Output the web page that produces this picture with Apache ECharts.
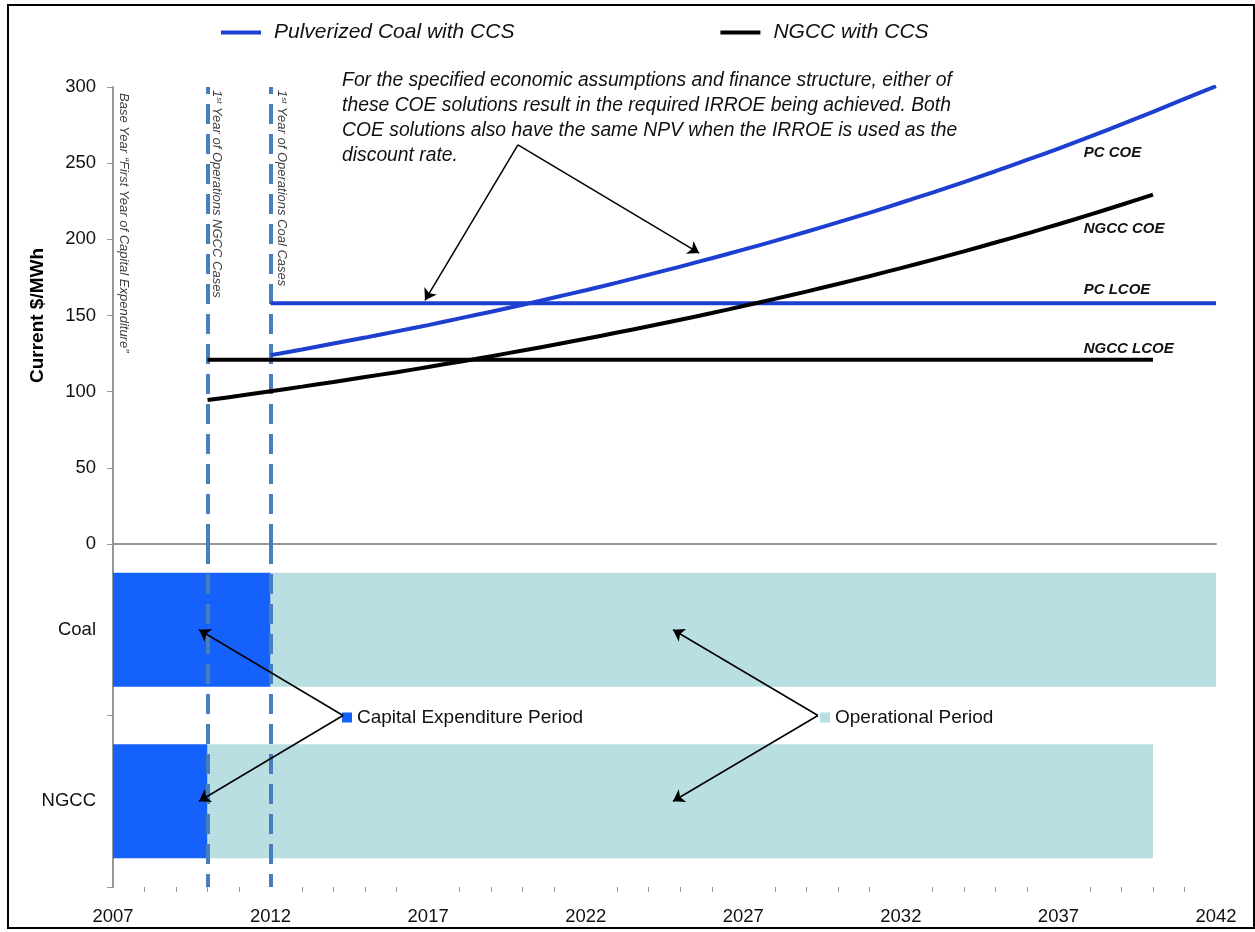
<!DOCTYPE html>
<html>
<head>
<meta charset="utf-8">
<script src="https://cdn.jsdelivr.net/npm/echarts@6/dist/echarts.min.js"></script>
<style>
html,body{margin:0;padding:0;background:#fff}
#main{width:1255px;height:932px}
</style>
</head>
<body>
<div id="main"></div>
<script>
// values
var pcCoeYears = [2012,2013,2014,2015,2016,2017,2018,2019,2020,2021,2022,2023,2024,2025,2026,2027,2028,2029,2030,2031,2032,2033,2034,2035,2036,2037,2038,2039,2040,2041,2042];
var pcCoe = [124.0,127.7,131.6,135.5,139.6,143.7,148.1,152.5,157.1,161.8,166.6,171.6,176.8,182.1,187.6,193.2,199.0,205.0,211.1,217.4,224.0,230.7,237.6,244.7,252.1,259.6,267.4,275.5,283.7,292.2,300.5];
var ngccCoeYears = [2010,2011,2012,2013,2014,2015,2016,2017,2018,2019,2020,2021,2022,2023,2024,2025,2026,2027,2028,2029,2030,2031,2032,2033,2034,2035,2036,2037,2038,2039,2040];
var ngccCoe = [94.5,97.3,100.3,103.3,106.4,109.6,112.8,116.2,119.7,123.3,127.0,130.8,134.7,138.8,142.9,147.2,151.6,156.2,160.9,165.7,170.7,175.8,181.1,186.5,192.1,197.9,203.8,209.9,216.2,222.7,229.4];
var pcLcoeYears = [2012,2042];
var pcLcoe = [158,158];
var ngccLcoeYears = [2010,2040];
var ngccLcoe = [121,121];
var opsStartYears = [2010,2012];

var periodCases = ['Coal','NGCC'];
var baseYear = [2007,2007];
var capitalYears = [5,3];
var operationalYears = [30,30];

var xTicks = {min: 2007, max: 2042, interval: 5};
var yTicks = {min: 0, max: 300, interval: 50};

function pairs(xs, ys) {
    var out = [];
    for (let i = 0; i < xs.length; i++) out.push([xs[i], ys[i]]);
    return out;
}

var font = 'Liberation Sans, Arial, sans-serif';
var blue = '#1c3fd0';
var dashBlue = '#4a7ebb';
var axisGray = '#969696';

var chart = echarts.init(document.getElementById('main'));

var option = {
    animation: false,
    textStyle: {fontFamily: font},
    grid: [
        {left: 113, right: 39, top: 87, height: 457},
        {left: 113, right: 39, top: 544, height: 343}
    ],
    legend: [
        {
            data: ['Pulverized Coal with CCS', 'NGCC with CCS'],
            left: 216, top: 17,
            icon: 'rect', itemWidth: 40, itemHeight: 4, itemGap: 206,
            textStyle: {fontSize: 21, fontStyle: 'italic', color: '#111', fontFamily: font, padding: [0, 0, 0, 8]}
        },
        {
            data: ['Capital Expenditure Period'],
            left: 337, top: 703,
            icon: 'rect', itemWidth: 10, itemHeight: 10,
            textStyle: {fontSize: 19, color: '#111', fontFamily: font}
        },
        {
            data: ['Operational Period'],
            left: 815, top: 703,
            icon: 'rect', itemWidth: 10, itemHeight: 10,
            textStyle: {fontSize: 19, color: '#111', fontFamily: font}
        }
    ],
    xAxis: [
        {
            type: 'value', gridIndex: 0, min: xTicks.min, max: xTicks.max, interval: xTicks.interval,
            axisLine: {onZero: true, lineStyle: {color: axisGray, width: 2}},
            axisTick: {show: false}, axisLabel: {show: false}, splitLine: {show: false}
        },
        {
            type: 'value', gridIndex: 1, min: xTicks.min, max: xTicks.max, interval: xTicks.interval,
            axisLine: {lineStyle: {color: axisGray, width: 2}},
            axisTick: {length: 5, lineStyle: {color: axisGray}},
            minorTick: {show: true, splitNumber: 5, length: 5, lineStyle: {color: axisGray}},
            axisLabel: {fontSize: 18.5, color: '#111', margin: 20, formatter: function (v) { return String(v); }},
            splitLine: {show: false}
        }
    ],
    yAxis: [
        {
            type: 'value', gridIndex: 0, min: yTicks.min, max: yTicks.max, interval: yTicks.interval,
            name: 'Current $/MWh', nameLocation: 'middle', nameGap: 66,
            nameTextStyle: {fontSize: 19, fontWeight: 'bold', color: '#000'},
            axisLine: {show: true, lineStyle: {color: axisGray, width: 2}},
            axisTick: {show: true, length: 6, lineStyle: {color: axisGray}},
            axisLabel: {fontSize: 18.5, color: '#111', margin: 17},
            splitLine: {show: false}
        },
        {
            type: 'category', gridIndex: 1, data: periodCases, inverse: true,
            axisLine: {show: true, lineStyle: {color: axisGray, width: 2}},
            axisTick: {show: true, length: 6, lineStyle: {color: axisGray}},
            axisLabel: {fontSize: 18.5, color: '#111', margin: 17}
        }
    ],
    series: [
        {
            name: 'Pulverized Coal with CCS', type: 'line', xAxisIndex: 0, yAxisIndex: 0,
            data: pairs(pcCoeYears, pcCoe), symbol: 'none', smooth: 0.3, color: blue,
            lineStyle: {width: 4, color: blue}, z: 3
        },
        {
            name: 'Pulverized Coal with CCS', type: 'line', xAxisIndex: 0, yAxisIndex: 0,
            data: pairs(pcLcoeYears, pcLcoe), symbol: 'none', color: blue,
            lineStyle: {width: 4, color: blue}, z: 3
        },
        {
            name: 'NGCC with CCS', type: 'line', xAxisIndex: 0, yAxisIndex: 0,
            data: pairs(ngccCoeYears, ngccCoe), symbol: 'none', smooth: 0.3, color: '#000',
            lineStyle: {width: 4, color: '#000'}, z: 3,
            markLine: {
                silent: true, symbol: 'none', z: 2,
                label: {show: false},
                lineStyle: {color: dashBlue, width: 4, type: [20, 10]},
                data: opsStartYears.map(function (y) { return {xAxis: y}; })
            }
        },
        {
            name: 'NGCC with CCS', type: 'line', xAxisIndex: 0, yAxisIndex: 0,
            data: pairs(ngccLcoeYears, ngccLcoe), symbol: 'none', color: '#000',
            lineStyle: {width: 4, color: '#000'}, z: 3,
            markLine: {
                silent: true, symbol: ['none', 'arrow'], symbolSize: 11,
                label: {show: false},
                lineStyle: {color: '#000', width: 1.5, type: 'solid'},
                data: [
                    [{coord: [2019.85, 262]}, {coord: [2016.9, 160]}],
                    [{coord: [2019.85, 262]}, {coord: [2025.6, 191]}]
                ]
            }
        },
        {
            name: 'base', type: 'bar', xAxisIndex: 1, yAxisIndex: 1, stack: 'period',
            data: baseYear, barWidth: 114, itemStyle: {color: 'rgba(0,0,0,0)'}, silent: true
        },
        {
            name: 'Capital Expenditure Period', type: 'bar', xAxisIndex: 1, yAxisIndex: 1, stack: 'period',
            data: capitalYears, barWidth: 114, itemStyle: {color: '#1561fb'}
        },
        {
            name: 'Operational Period', type: 'bar', xAxisIndex: 1, yAxisIndex: 1, stack: 'period',
            data: operationalYears, barWidth: 114, itemStyle: {color: '#b9dfe2'},
            markLine: {
                silent: true, symbol: 'none', z: 5,
                label: {show: false},
                lineStyle: {color: dashBlue, width: 4, type: [20, 10]},
                data: opsStartYears.map(function (y) { return {xAxis: y}; })
            }
        },
        {
            id: 'arrows', name: 'arrows', type: 'line', xAxisIndex: 1, yAxisIndex: 1, data: []
        }
    ]
};

chart.setOption(option);

function px(x, y) {
    return chart.convertToPixel({gridIndex: 0}, [x, y]);
}
function pxBottom(x, cat) {
    return chart.convertToPixel({gridIndex: 1}, [x, cat]);
}

// bottom arrows: start between the two bars, end in the middle of each bar
function arrowPair(fromYear, toYear) {
    var a = pxBottom(fromYear, periodCases[0]);
    var b = pxBottom(fromYear, periodCases[1]);
    var start = {x: a[0], y: (a[1] + b[1]) / 2};
    return periodCases.map(function (c) {
        var e = pxBottom(toYear, c);
        return [start, {x: e[0], y: e[1]}];
    });
}
var bottomArrows = arrowPair(2014.3, 2009.73).concat(arrowPair(2029.37, 2024.77));

function vText(x, y, txt, sup) {
    var rich = {
        n: {fontSize: 13, fontStyle: 'italic', fill: '#404040', fontFamily: font},
        s: {fontSize: 8, fontStyle: 'italic', fill: '#404040', fontFamily: font, verticalAlign: 'top'}
    };
    var p = px(x, y);
    return {
        type: 'text', x: p[0], y: p[1], rotation: -Math.PI / 2,
        style: {
            text: sup ? '{n|1}{s|st}{n|' + txt + '}' : '{n|' + txt + '}',
            rich: rich, align: 'left', verticalAlign: 'middle'
        }
    };
}

var labelStyle = {fontSize: 15, fontWeight: 'bold', fontStyle: 'italic', fill: '#111', fontFamily: font};
function cLabel(y, txt) {
    var p = px(2037.8, y);
    return {type: 'text', x: p[0], y: p[1], style: Object.assign({text: txt, align: 'left', verticalAlign: 'middle'}, labelStyle)};
}

var note = px(2014.27, 312.5);

chart.setOption({
    series: [{
        id: 'arrows',
        markLine: {
            silent: true, symbol: ['none', 'arrow'], symbolSize: 11, z: 6,
            label: {show: false},
            lineStyle: {color: '#000', width: 1.5, type: 'solid'},
            data: bottomArrows
        }
    }],
    graphic: [
        {type: 'rect', shape: {x: 8, y: 5, width: 1246, height: 923}, style: {fill: null, stroke: '#000', lineWidth: 2}, silent: true},
        vText(2007.35, 296, 'Base Year \u201cFirst Year of Capital Expenditure\u201d', false),
        vText(2010.3, 298, ' Year of Operations NGCC Cases', true),
        vText(2012.35, 298, ' Year of Operations Coal Cases', true),
        {
            type: 'text', x: note[0], y: note[1],
            style: {
                text: 'For the specified economic assumptions and finance structure, either of\nthese COE solutions result in the required IRROE being achieved. Both\nCOE solutions also have the same NPV when the IRROE is used as the\ndiscount rate.',
                fontSize: 19.3, fontStyle: 'italic', fill: '#111', fontFamily: font, lineHeight: 25,
                align: 'left', verticalAlign: 'top'
            }
        },
        cLabel(257, 'PC COE'),
        cLabel(207, 'NGCC COE'),
        cLabel(167, 'PC LCOE'),
        cLabel(128, 'NGCC LCOE')
    ]
});
</script>
</body>
</html>
